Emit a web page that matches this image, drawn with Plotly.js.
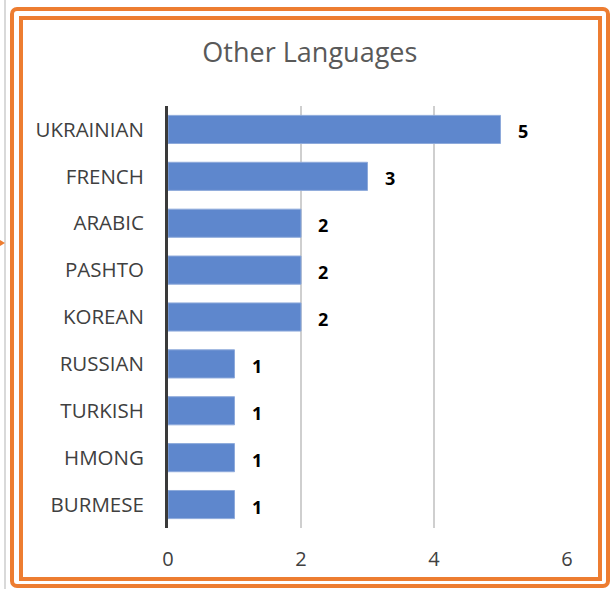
<!DOCTYPE html>
<html>
<head>
<meta charset="utf-8">
<script src="https://cdn.plot.ly/plotly-3.0.1.min.js"></script>
<style>
  html, body { margin: 0; padding: 0; background: #fff; }
  #wrap { position: relative; width: 616px; height: 589px; overflow: hidden; }
  #chart { position: absolute; left: 0; top: 0; width: 616px; height: 589px; }
  .b { position: absolute; pointer-events: none; box-sizing: border-box; }
  #outer { left: 10px; top: 7px; width: 600px; height: 581px; border: 4px solid #ED7D31; border-radius: 7px; }
  #inner { left: 19px; top: 16px; width: 583px; height: 565px; border: 4px solid #ED7D31; }
  #gray { left: 4px; top: 0; width: 2px; height: 589px; background: #d9d9d9; }
  #arrow { left: 0; top: 240px; width: 0; height: 0; border-top: 3px solid transparent; border-bottom: 3px solid transparent; border-left: 5px solid #ED7D31; }
</style>
</head>
<body>
<div id="wrap">
  <div id="chart"></div>
  <div class="b" id="gray"></div>
  <div class="b" id="arrow"></div>
  <div class="b" id="outer"></div>
  <div class="b" id="inner"></div>
</div>
<script>
const categories = ["UKRAINIAN", "FRENCH", "ARABIC", "PASHTO", "KOREAN", "RUSSIAN", "TURKISH", "HMONG", "BURMESE"];
const values = [5, 3, 2, 2, 2, 1, 1, 1, 1];
const xTicks = [0, 2, 4, 6];
const chartTitle = "Other Languages";

const trace = {
  type: "bar",
  orientation: "h",
  y: categories,
  x: values,
  marker: { color: "#5e87cd", line: { color: "#8eaadb", width: 1 } },
  hoverinfo: "none"
};

const annotations = categories.map((c, i) => ({
  x: values[i], y: c, xref: "x", yref: "y",
  text: "<b>" + values[i] + "</b>",
  showarrow: false, xanchor: "left", xshift: 15, yshift: -2,
  font: { family: "Open Sans, Liberation Sans, sans-serif", size: 18, color: "#000" }
}));

const layout = {
  width: 616, height: 589,
  paper_bgcolor: "#fff", plot_bgcolor: "#fff",
  margin: { l: 168, r: 49, t: 106, b: 61, pad: 0 },
  title: {
    text: chartTitle,
    font: { family: "Open Sans, sans-serif", size: 27, color: "#595959" },
    x: 0.503, xanchor: "center", xref: "container",
    y: 54, yref: "container", yanchor: "middle"
  },
  showlegend: false,
  bargap: 0.4,
  xaxis: {
    range: [0, 6], tickvals: xTicks, ticktext: xTicks.map(String),
    showgrid: true, gridcolor: "#cfcfcf", gridwidth: 1.5,
    zeroline: false, showline: false, ticks: "",
    tickfont: { family: "Open Sans, sans-serif", size: 20, color: "#404040" },
    ticklabelstandoff: 17, fixedrange: true
  },
  yaxis: {
    type: "category", categoryorder: "array", categoryarray: categories,
    autorange: "reversed",
    showline: true, linecolor: "#3a3a3a", linewidth: 3,
    showgrid: false, ticks: "",
    ticklabelstandoff: 17,
    tickfont: { family: "Open Sans, sans-serif", size: 20.5, color: "#404040" },
    fixedrange: true
  },
  annotations: annotations
};

Plotly.newPlot("chart", [trace], layout, { displayModeBar: false, staticPlot: true });
</script>
</body>
</html>
